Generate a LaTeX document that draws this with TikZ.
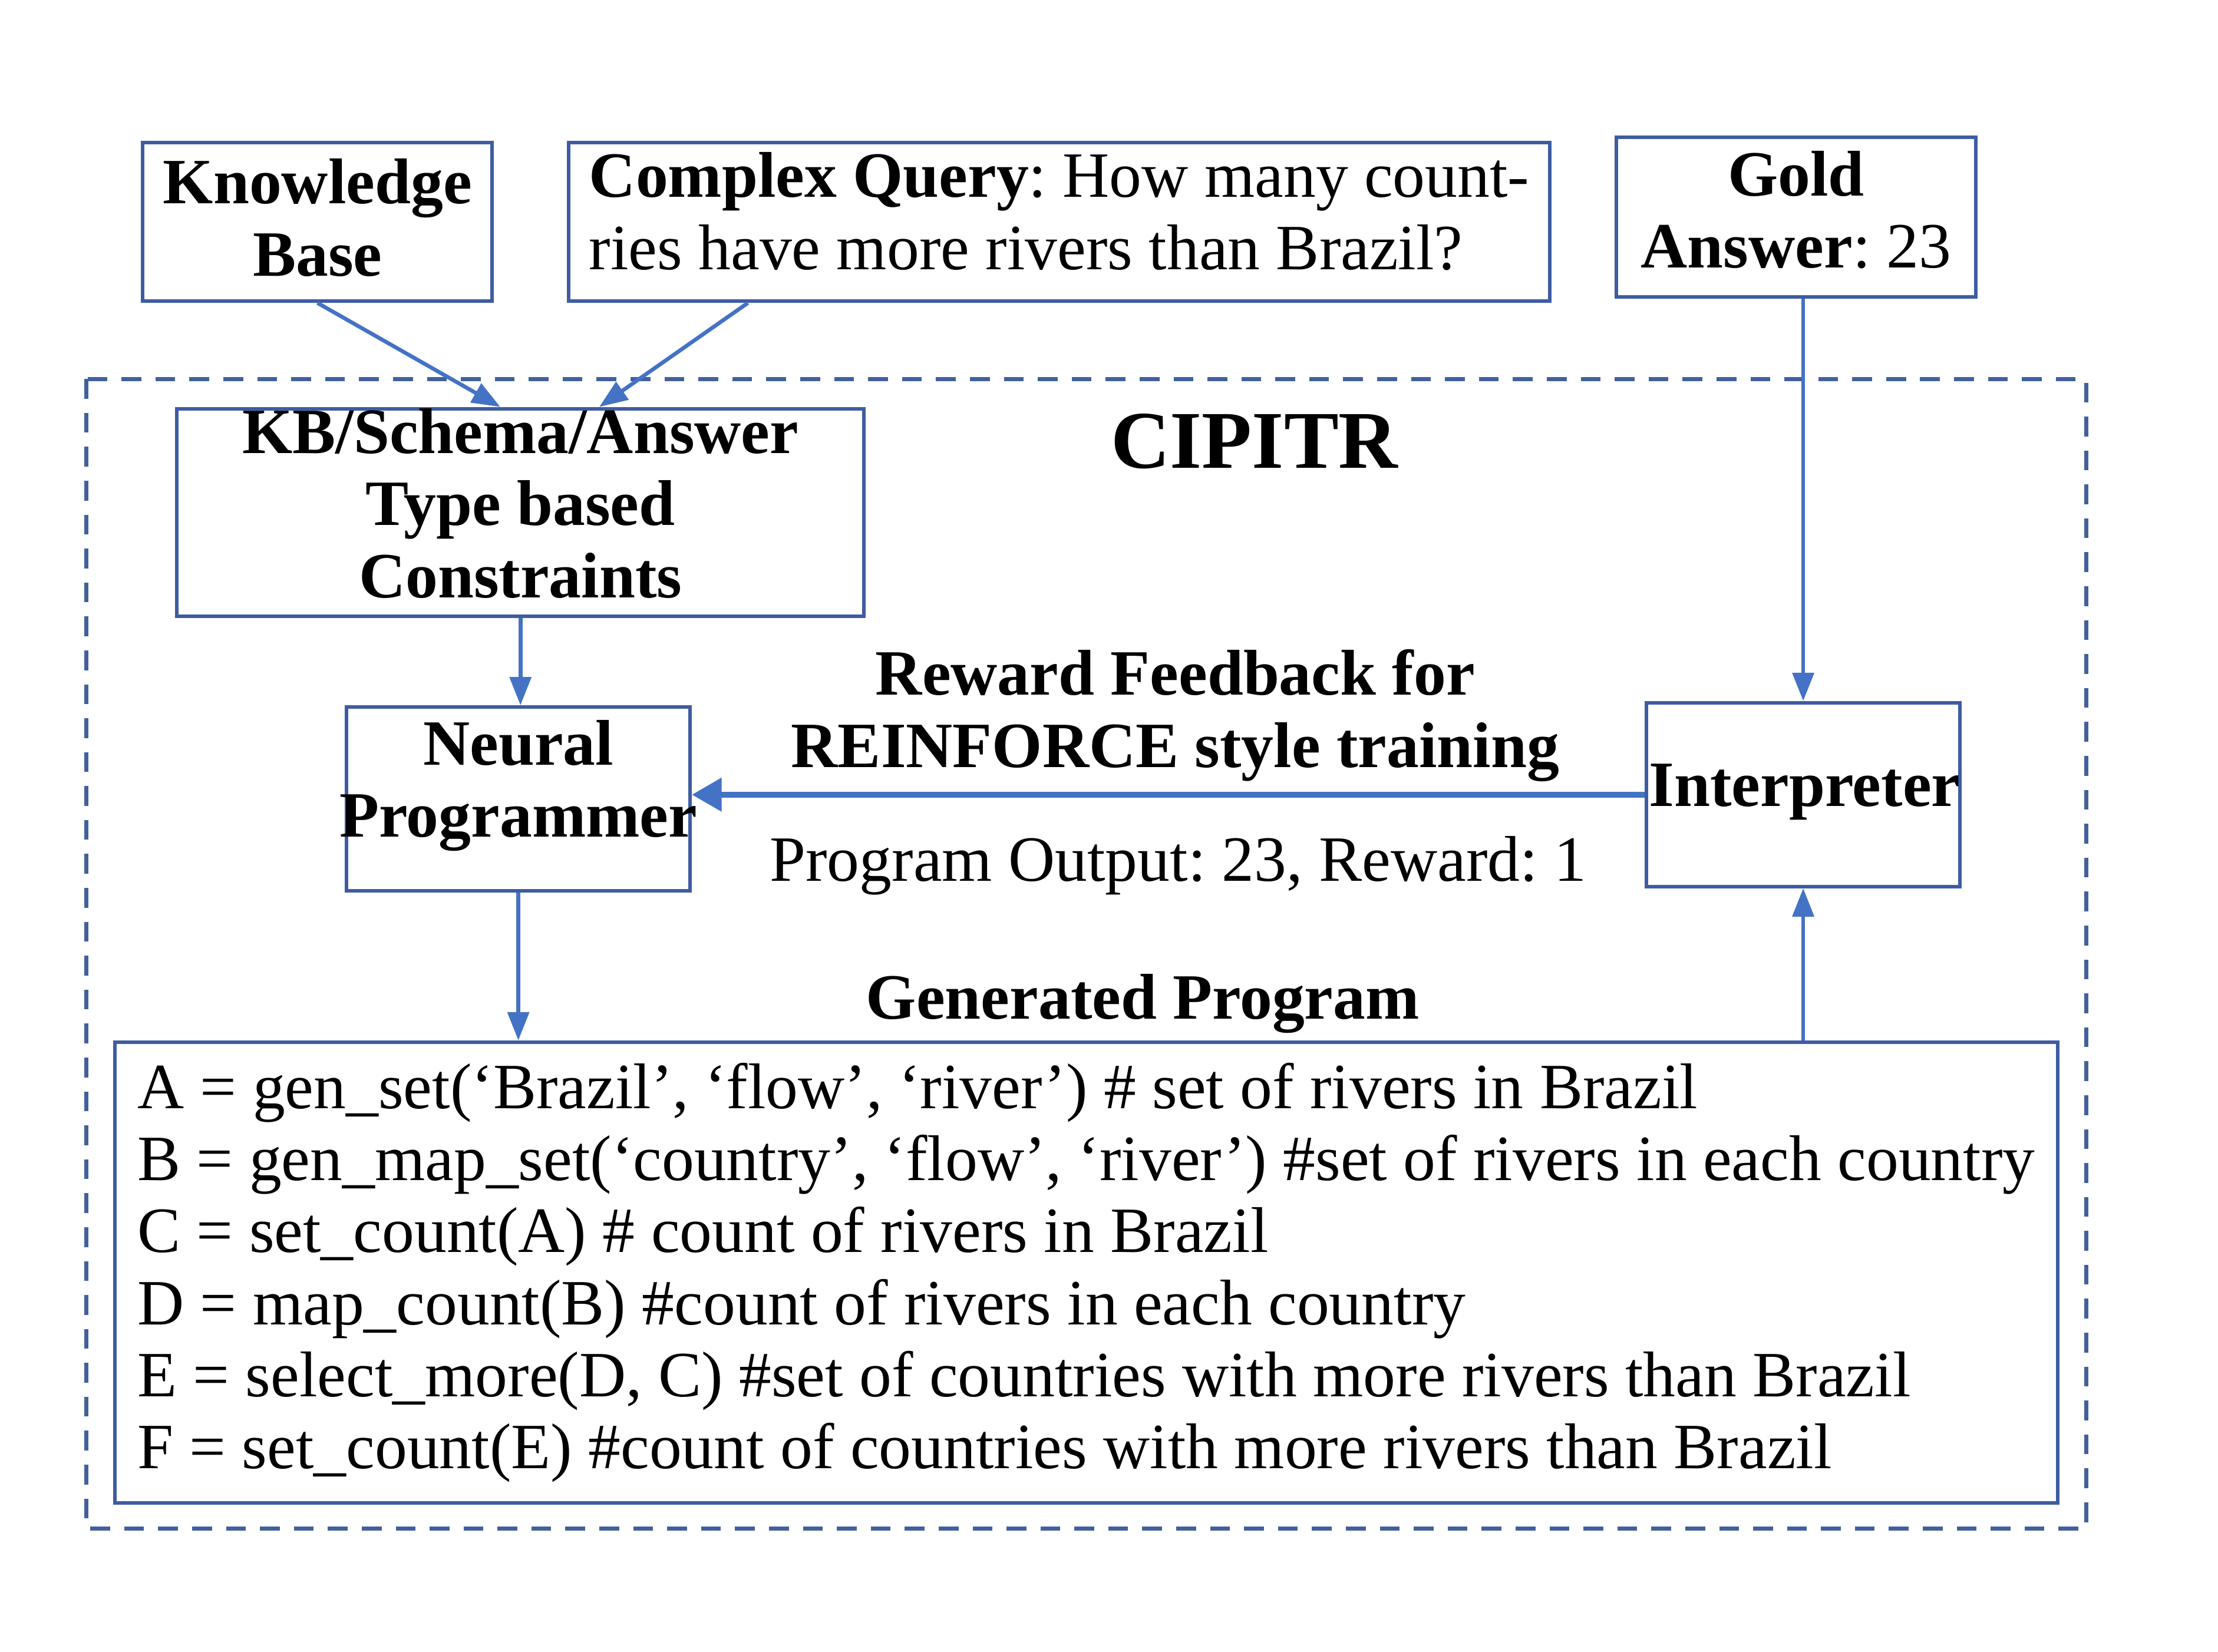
\documentclass[tikz,border=0pt]{standalone}
\usepackage{fontspec}
\setmainfont{Liberation Serif}
\usetikzlibrary{arrows.meta,calc}
\frenchspacing
\definecolor{boxc}{RGB}{62,92,162}
\definecolor{arrc}{RGB}{68,114,196}
\definecolor{dashc}{RGB}{66,96,156}
\tikzset{
  box/.style={draw=boxc, line width=0.05cm, inner sep=0pt},
  plain/.style={inner sep=0pt, align=center, font=\fontsize{26}{29}\selectfont},
  boldtxt/.style={inner sep=0pt, align=center, font=\fontsize{26}{29}\selectfont\bfseries},
  arr/.style={draw=arrc, line width=0.055cm, -{Triangle[length=0.4cm,width=0.3cm]}},
  bigarr/.style={draw=arrc, line width=0.08cm, -{Triangle[length=0.42cm,width=0.46cm]}},
  outer/.style={draw=dashc, line width=0.06cm, dash pattern=on 0.28cm off 0.2cm}
}
\begin{document}
\begin{tikzpicture}[x=0.02cm,y=-0.02cm]
\path[fill=white,use as bounding box] (0,0) rectangle (1568.3,1168.3);

% outer dashed frame
\draw[outer] (61,268) rectangle (1475,1081);

% top boxes
\node[box, minimum width=4.94cm, minimum height=2.24cm] (kb) at (224.5,157) {};
\node[boldtxt] (kbt) at (224.5,154) {Knowledge\\Base};
\node[box, minimum width=13.88cm, minimum height=2.24cm] (cq) at (749,157) {};
\node[plain, align=left] (cqt) at (749,149.5)
  {\textbf{Complex Query}: How many count-\\ries have more rivers than Brazil?};
\node[box, minimum width=5.08cm, minimum height=2.26cm] (gold) at (1270,153.5) {};
\node[boldtxt] (goldt) at (1270,148.5) {Gold\\Answer\textmd{: 23}};

% inner boxes
\node[box, minimum width=9.72cm, minimum height=2.94cm] (cons) at (368,362.5) {};
\node[boldtxt] (const) at (368,356) {KB/Schema/Answer\\Type based\\Constraints};
\node[box, minimum width=4.86cm, minimum height=2.6cm] (np) at (366.5,565) {};
\node[boldtxt] (npt) at (366.5,555.5) {Neural\\Programmer};
\node[box, minimum width=4.44cm, minimum height=2.6cm] (interp) at (1275,562) {};
\node[boldtxt] (interpt) at (1276,560) {Interpreter};
\node[box, minimum width=27.48cm, minimum height=6.52cm, align=left, font=\fontsize{26}{29}\selectfont] (prog) at (768,900)
  {A = gen\_set(‘Brazil’, ‘flow’, ‘river’) \# set of rivers in Brazil\\
   B = gen\_map\_set(‘country’, ‘flow’, ‘river’) \#set of rivers in each country\\
   C = set\_count(A) \# count of rivers in Brazil\\
   D = map\_count(B) \#count of rivers in each country\\
   E = select\_more(D, C) \#set of countries with more rivers than Brazil\\
   F = set\_count(E) \#count of countries with more rivers than Brazil};

% labels
\node[boldtxt, font=\fontsize{33}{36}\selectfont\bfseries] (title) at (887,312) {CIPITR};
\node[boldtxt] (reward) at (831,506) {Reward Feedback for\\REINFORCE style training};
\node[plain] (output) at (833,612) {Program Output: 23, Reward: 1};
\node[boldtxt] (gen) at (808,710) {Generated Program};

% connectors
\draw[arr] (kb.south) -- ([xshift=4.6cm]cons.north west);
\draw[arr] ([xshift=2.56cm]cq.south west) -- ([xshift=6cm]cons.north west);
\draw[arr] (cons.south) -- (cons.south |- np.north);
\draw[arr] (np.south) -- (np.south |- prog.north);
\draw[arr] (interp.north |- gold.south) -- (interp.north);
\draw[arr] (interp.south |- prog.north) -- (interp.south);
\draw[bigarr] (interp.west) -- (np.east |- interp.west);
\end{tikzpicture}
\end{document}
